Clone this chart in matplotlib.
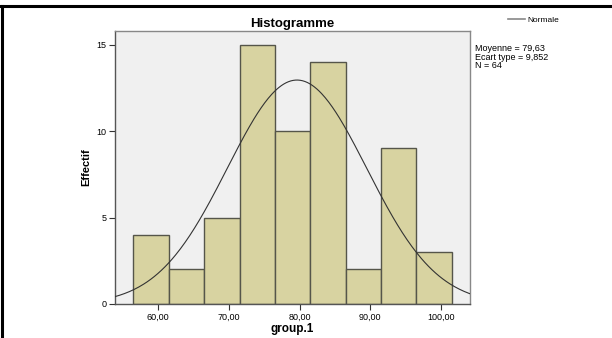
import numpy as np
import matplotlib
matplotlib.use("Agg")
import matplotlib.pyplot as plt
from matplotlib.lines import Line2D

# histogram data
bin_edges = [56.5, 61.5, 66.5, 71.5, 76.5, 81.5, 86.5, 91.5, 96.5, 101.5]
counts = [4, 2, 5, 15, 10, 14, 2, 9, 3]
xticks = [60, 70, 80, 90, 100]
xticklabels = ["60,00", "70,00", "80,00", "90,00", "100,00"]
yticks = [0, 5, 10, 15]

# stats shown in the box
mean = 79.63
std = 9.852
n = 64

plt.rcParams['font.family'] = ['Liberation Sans', 'DejaVu Sans']

fig = plt.figure(figsize=(6.12, 3.38), dpi=100)
ax = fig.add_axes([0.188, 0.1006, 0.580, 0.8074])
ax.set_facecolor('#f0f0f0')

widths = np.diff(bin_edges)
ax.bar(bin_edges[:-1], counts, width=widths, align='edge',
       color='#d8d3a1', edgecolor='#55554a', linewidth=1.0, zorder=2)

# fitted normal curve (from the displayed mean / sd / N)
xs = np.linspace(53.9, 104.1, 300)
bw = widths[0]
ys = n * bw / (std * np.sqrt(2 * np.pi)) * np.exp(-0.5 * ((xs - mean) / std) ** 2)
ax.plot(xs, ys, color='#333333', linewidth=0.8, zorder=3)

ax.set_xlim(53.9, 104.1)
ax.set_ylim(0, 15.79)
ax.set_xticks(xticks)
ax.set_xticklabels(xticklabels, fontsize=6.5)
ax.set_yticks(yticks)
ax.set_yticklabels([str(v) for v in yticks], fontsize=6.5)
ax.tick_params(length=4, width=0.8, color='#333333', pad=2)

for s in ax.spines.values():
    s.set_color('#888888')
    s.set_linewidth(1.0)
ax.spines['left'].set_color('#555555')
ax.spines['bottom'].set_color('#555555')

ax.set_title("Histogramme", fontsize=9.5, fontweight='bold', pad=3)
ax.set_xlabel("group.1", fontsize=8.5, fontweight='bold', labelpad=1)
ax.set_ylabel("Effectif", fontsize=8, fontweight='bold', labelpad=4)

# legend
leg_handle = Line2D([0], [0], color='#888888', linewidth=1.2)
fig.legend([leg_handle], ["Normale"], loc='center left',
           bbox_to_anchor=(0.818, 0.94), frameon=False, fontsize=6,
           handlelength=2.0, handletextpad=0.3)

fig.text(0.776, 0.87, "Moyenne = 79,63\nEcart type = 9,852\nN = 64",
         fontsize=6.5, va='top', ha='left', linespacing=0.95)

# black frame lines at top and left
fig.add_artist(Line2D([0, 1], [0.981, 0.981], color='black', linewidth=2.2,
                      transform=fig.transFigure))
fig.add_artist(Line2D([0.0033, 0.0033], [0, 0.981], color='black', linewidth=2.2,
                      transform=fig.transFigure))

fig.savefig("out.png", dpi=100)
